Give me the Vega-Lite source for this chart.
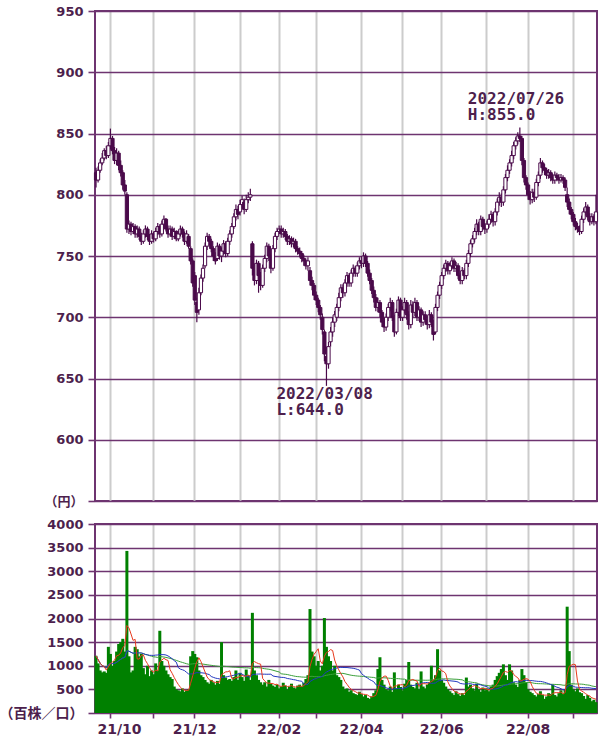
{
"$schema": "https://vega.github.io/schema/vega-lite/v6.json",
"background": "white",
"padding": {"left": -2, "top": 4, "right": 4, "bottom": 0},
"spacing": 8,
"config": {
  "view": {"stroke": "#6e3470", "strokeWidth": 2},
  "axis": {"labelFont": "DejaVu Sans, Noto Sans CJK JP", "labelFontWeight": "bold", "labelColor": "#4d1f4d", "labelFontSize": 13, "tickColor": "#6e3470", "domain": false, "labelOverlap": false}
},
"datasets": {
"px": [
{"d":"2021-09-21","o":818,"h":822,"l":806,"c":812,"v":1210},
{"d":"2021-09-22","o":812,"h":823,"l":810,"c":820,"v":1050},
{"d":"2021-09-24","o":820,"h":829,"l":818,"c":826,"v":900},
{"d":"2021-09-27","o":826,"h":834,"l":824,"c":830,"v":860},
{"d":"2021-09-28","o":830,"h":838,"l":828,"c":836,"v":880},
{"d":"2021-09-29","o":836,"h":840,"l":829,"c":832,"v":850},
{"d":"2021-09-30","o":832,"h":843,"l":830,"c":840,"v":1400},
{"d":"2021-10-01","o":840,"h":854,"l":837,"c":846,"v":1250},
{"d":"2021-10-04","o":846,"h":848,"l":833,"c":836,"v":1000},
{"d":"2021-10-05","o":836,"h":839,"l":825,"c":828,"v":1100},
{"d":"2021-10-06","o":828,"h":838,"l":824,"c":834,"v":1300},
{"d":"2021-10-07","o":834,"h":836,"l":820,"c":824,"v":1460},
{"d":"2021-10-08","o":824,"h":828,"l":815,"c":818,"v":1500},
{"d":"2021-10-11","o":818,"h":820,"l":804,"c":808,"v":1570},
{"d":"2021-10-12","o":808,"h":812,"l":800,"c":803,"v":1300},
{"d":"2021-10-13","o":800,"h":802,"l":769,"c":772,"v":3430},
{"d":"2021-10-14","o":772,"h":779,"l":768,"c":776,"v":1200},
{"d":"2021-10-15","o":776,"h":778,"l":767,"c":770,"v":860},
{"d":"2021-10-18","o":770,"h":777,"l":768,"c":774,"v":900},
{"d":"2021-10-19","o":774,"h":776,"l":765,"c":768,"v":1400},
{"d":"2021-10-20","o":768,"h":775,"l":765,"c":772,"v":1350},
{"d":"2021-10-21","o":772,"h":774,"l":763,"c":766,"v":1200},
{"d":"2021-10-22","o":766,"h":769,"l":759,"c":762,"v":1250},
{"d":"2021-10-25","o":762,"h":771,"l":760,"c":768,"v":950},
{"d":"2021-10-26","o":768,"h":775,"l":765,"c":772,"v":820},
{"d":"2021-10-27","o":772,"h":774,"l":763,"c":766,"v":1000},
{"d":"2021-10-28","o":766,"h":768,"l":759,"c":762,"v":780},
{"d":"2021-10-29","o":762,"h":771,"l":760,"c":768,"v":900},
{"d":"2021-11-01","o":768,"h":770,"l":761,"c":764,"v":820},
{"d":"2021-11-02","o":764,"h":773,"l":762,"c":770,"v":1050},
{"d":"2021-11-04","o":770,"h":777,"l":767,"c":774,"v":900},
{"d":"2021-11-05","o":774,"h":776,"l":765,"c":768,"v":1740},
{"d":"2021-11-08","o":768,"h":779,"l":766,"c":776,"v":1100},
{"d":"2021-11-09","o":776,"h":783,"l":773,"c":780,"v":1000},
{"d":"2021-11-10","o":780,"h":781,"l":770,"c":772,"v":900},
{"d":"2021-11-11","o":772,"h":775,"l":765,"c":768,"v":820},
{"d":"2021-11-12","o":768,"h":775,"l":766,"c":772,"v":760},
{"d":"2021-11-15","o":772,"h":774,"l":763,"c":766,"v":720},
{"d":"2021-11-16","o":766,"h":773,"l":764,"c":770,"v":560},
{"d":"2021-11-17","o":770,"h":771,"l":762,"c":764,"v":500},
{"d":"2021-11-18","o":764,"h":771,"l":762,"c":768,"v":480},
{"d":"2021-11-19","o":768,"h":775,"l":766,"c":772,"v":460},
{"d":"2021-11-22","o":772,"h":774,"l":765,"c":768,"v":520},
{"d":"2021-11-24","o":768,"h":770,"l":759,"c":762,"v":450},
{"d":"2021-11-25","o":762,"h":771,"l":760,"c":768,"v":480},
{"d":"2021-11-26","o":766,"h":768,"l":756,"c":758,"v":500},
{"d":"2021-11-29","o":756,"h":758,"l":743,"c":746,"v":1200},
{"d":"2021-11-30","o":746,"h":748,"l":725,"c":728,"v":1310},
{"d":"2021-12-01","o":734,"h":737,"l":710,"c":714,"v":1250},
{"d":"2021-12-02","o":712,"h":716,"l":696,"c":704,"v":1180},
{"d":"2021-12-03","o":706,"h":724,"l":702,"c":720,"v":900},
{"d":"2021-12-06","o":720,"h":735,"l":718,"c":732,"v":800},
{"d":"2021-12-07","o":732,"h":743,"l":729,"c":740,"v":760},
{"d":"2021-12-08","o":742,"h":761,"l":740,"c":758,"v":700},
{"d":"2021-12-09","o":758,"h":769,"l":755,"c":766,"v":650},
{"d":"2021-12-10","o":766,"h":768,"l":759,"c":762,"v":620},
{"d":"2021-12-13","o":762,"h":764,"l":753,"c":756,"v":700},
{"d":"2021-12-14","o":756,"h":758,"l":746,"c":750,"v":650},
{"d":"2021-12-15","o":750,"h":753,"l":743,"c":746,"v":600},
{"d":"2021-12-16","o":748,"h":761,"l":746,"c":758,"v":680},
{"d":"2021-12-17","o":758,"h":760,"l":747,"c":750,"v":620},
{"d":"2021-12-20","o":750,"h":757,"l":745,"c":754,"v":1500},
{"d":"2021-12-21","o":754,"h":763,"l":751,"c":760,"v":800},
{"d":"2021-12-22","o":760,"h":762,"l":749,"c":752,"v":750},
{"d":"2021-12-23","o":752,"h":765,"l":750,"c":762,"v":700},
{"d":"2021-12-24","o":762,"h":771,"l":759,"c":768,"v":720},
{"d":"2021-12-27","o":768,"h":777,"l":765,"c":774,"v":680},
{"d":"2021-12-28","o":774,"h":785,"l":772,"c":782,"v":760},
{"d":"2021-12-29","o":782,"h":792,"l":779,"c":788,"v":900},
{"d":"2021-12-30","o":788,"h":791,"l":780,"c":784,"v":700},
{"d":"2022-01-04","o":786,"h":796,"l":783,"c":792,"v":850},
{"d":"2022-01-05","o":792,"h":799,"l":789,"c":796,"v":760},
{"d":"2022-01-06","o":794,"h":797,"l":784,"c":788,"v":680},
{"d":"2022-01-07","o":788,"h":800,"l":786,"c":796,"v":920},
{"d":"2022-01-11","o":796,"h":802,"l":793,"c":798,"v":800},
{"d":"2022-01-12","o":798,"h":805,"l":795,"c":800,"v":700},
{"d":"2022-01-13","o":760,"h":762,"l":734,"c":740,"v":2120},
{"d":"2022-01-14","o":740,"h":744,"l":726,"c":730,"v":900},
{"d":"2022-01-17","o":730,"h":747,"l":727,"c":744,"v":800},
{"d":"2022-01-18","o":744,"h":746,"l":720,"c":734,"v":700},
{"d":"2022-01-19","o":734,"h":737,"l":722,"c":726,"v":650},
{"d":"2022-01-20","o":726,"h":743,"l":724,"c":740,"v":600},
{"d":"2022-01-21","o":740,"h":751,"l":737,"c":748,"v":650},
{"d":"2022-01-24","o":748,"h":761,"l":745,"c":758,"v":560},
{"d":"2022-01-25","o":758,"h":760,"l":746,"c":750,"v":700},
{"d":"2022-01-26","o":750,"h":752,"l":736,"c":740,"v":620},
{"d":"2022-01-27","o":740,"h":759,"l":738,"c":756,"v":580},
{"d":"2022-01-28","o":756,"h":769,"l":753,"c":766,"v":550},
{"d":"2022-01-31","o":766,"h":773,"l":763,"c":770,"v":600},
{"d":"2022-02-01","o":770,"h":775,"l":768,"c":772,"v":520},
{"d":"2022-02-02","o":772,"h":775,"l":765,"c":768,"v":560},
{"d":"2022-02-03","o":768,"h":773,"l":765,"c":770,"v":640},
{"d":"2022-02-04","o":770,"h":772,"l":763,"c":766,"v":580},
{"d":"2022-02-07","o":766,"h":768,"l":759,"c":762,"v":500},
{"d":"2022-02-08","o":762,"h":767,"l":759,"c":764,"v":560},
{"d":"2022-02-09","o":764,"h":766,"l":757,"c":760,"v":620},
{"d":"2022-02-10","o":760,"h":765,"l":757,"c":762,"v":540},
{"d":"2022-02-14","o":762,"h":764,"l":753,"c":756,"v":520},
{"d":"2022-02-15","o":756,"h":758,"l":751,"c":754,"v":580},
{"d":"2022-02-16","o":754,"h":757,"l":749,"c":752,"v":600},
{"d":"2022-02-17","o":752,"h":754,"l":745,"c":748,"v":560},
{"d":"2022-02-18","o":748,"h":751,"l":742,"c":746,"v":640},
{"d":"2022-02-21","o":746,"h":748,"l":739,"c":742,"v":720},
{"d":"2022-02-22","o":742,"h":749,"l":738,"c":746,"v":800},
{"d":"2022-02-24","o":738,"h":741,"l":726,"c":730,"v":2200},
{"d":"2022-02-25","o":730,"h":733,"l":722,"c":726,"v":1300},
{"d":"2022-02-28","o":726,"h":728,"l":714,"c":718,"v":1200},
{"d":"2022-03-01","o":718,"h":721,"l":710,"c":714,"v":1000},
{"d":"2022-03-02","o":714,"h":716,"l":704,"c":708,"v":1100},
{"d":"2022-03-03","o":708,"h":710,"l":698,"c":702,"v":900},
{"d":"2022-03-04","o":700,"h":703,"l":686,"c":690,"v":1000},
{"d":"2022-03-07","o":688,"h":690,"l":664,"c":670,"v":2010},
{"d":"2022-03-08","o":668,"h":676,"l":644,"c":662,"v":1400},
{"d":"2022-03-09","o":662,"h":680,"l":658,"c":676,"v":1200},
{"d":"2022-03-10","o":680,"h":692,"l":676,"c":688,"v":1100},
{"d":"2022-03-11","o":688,"h":700,"l":684,"c":696,"v":900},
{"d":"2022-03-14","o":696,"h":705,"l":692,"c":702,"v":1000},
{"d":"2022-03-15","o":700,"h":711,"l":697,"c":708,"v":800},
{"d":"2022-03-16","o":708,"h":720,"l":705,"c":716,"v":760},
{"d":"2022-03-17","o":716,"h":727,"l":713,"c":724,"v":700},
{"d":"2022-03-18","o":724,"h":727,"l":716,"c":720,"v":560},
{"d":"2022-03-22","o":720,"h":731,"l":717,"c":728,"v":500},
{"d":"2022-03-23","o":728,"h":737,"l":725,"c":734,"v":520},
{"d":"2022-03-24","o":734,"h":736,"l":725,"c":728,"v":450},
{"d":"2022-03-25","o":728,"h":739,"l":725,"c":736,"v":480},
{"d":"2022-03-28","o":736,"h":743,"l":733,"c":740,"v":420},
{"d":"2022-03-29","o":740,"h":742,"l":733,"c":736,"v":400},
{"d":"2022-03-30","o":736,"h":745,"l":733,"c":742,"v":380},
{"d":"2022-03-31","o":742,"h":749,"l":739,"c":746,"v":450},
{"d":"2022-04-01","o":746,"h":750,"l":740,"c":744,"v":400},
{"d":"2022-04-04","o":744,"h":753,"l":741,"c":750,"v":350},
{"d":"2022-04-05","o":750,"h":752,"l":741,"c":744,"v":380},
{"d":"2022-04-06","o":744,"h":746,"l":733,"c":736,"v":320},
{"d":"2022-04-07","o":736,"h":739,"l":727,"c":730,"v":300},
{"d":"2022-04-08","o":730,"h":732,"l":719,"c":722,"v":350},
{"d":"2022-04-11","o":722,"h":725,"l":712,"c":716,"v":420},
{"d":"2022-04-12","o":716,"h":719,"l":705,"c":708,"v":480},
{"d":"2022-04-13","o":708,"h":716,"l":704,"c":712,"v":930},
{"d":"2022-04-14","o":712,"h":714,"l":700,"c":704,"v":1180},
{"d":"2022-04-15","o":704,"h":706,"l":692,"c":696,"v":700},
{"d":"2022-04-18","o":696,"h":699,"l":688,"c":692,"v":600},
{"d":"2022-04-19","o":692,"h":703,"l":689,"c":700,"v":500},
{"d":"2022-04-20","o":700,"h":711,"l":697,"c":708,"v":480},
{"d":"2022-04-21","o":708,"h":716,"l":705,"c":712,"v":560},
{"d":"2022-04-22","o":712,"h":714,"l":697,"c":700,"v":450},
{"d":"2022-04-25","o":700,"h":702,"l":684,"c":688,"v":860},
{"d":"2022-04-26","o":688,"h":707,"l":686,"c":704,"v":520},
{"d":"2022-04-27","o":704,"h":717,"l":701,"c":714,"v":600},
{"d":"2022-04-28","o":714,"h":716,"l":697,"c":700,"v":550},
{"d":"2022-05-02","o":700,"h":709,"l":697,"c":706,"v":480},
{"d":"2022-05-06","o":706,"h":716,"l":703,"c":712,"v":620},
{"d":"2022-05-09","o":712,"h":714,"l":698,"c":702,"v":700},
{"d":"2022-05-10","o":702,"h":705,"l":690,"c":694,"v":1080},
{"d":"2022-05-11","o":694,"h":714,"l":691,"c":710,"v":600},
{"d":"2022-05-12","o":710,"h":713,"l":700,"c":704,"v":550},
{"d":"2022-05-13","o":704,"h":716,"l":701,"c":712,"v":520},
{"d":"2022-05-16","o":712,"h":714,"l":697,"c":700,"v":640},
{"d":"2022-05-17","o":700,"h":709,"l":697,"c":706,"v":500},
{"d":"2022-05-18","o":706,"h":708,"l":692,"c":696,"v":880},
{"d":"2022-05-19","o":696,"h":705,"l":693,"c":702,"v":560},
{"d":"2022-05-20","o":702,"h":705,"l":694,"c":698,"v":520},
{"d":"2022-05-23","o":698,"h":701,"l":690,"c":694,"v":600},
{"d":"2022-05-24","o":694,"h":706,"l":691,"c":702,"v":650},
{"d":"2022-05-25","o":702,"h":704,"l":692,"c":696,"v":1000},
{"d":"2022-05-26","o":696,"h":698,"l":681,"c":686,"v":700},
{"d":"2022-05-27","o":688,"h":711,"l":686,"c":708,"v":800},
{"d":"2022-05-30","o":708,"h":721,"l":705,"c":718,"v":1350},
{"d":"2022-05-31","o":718,"h":729,"l":715,"c":726,"v":900},
{"d":"2022-06-01","o":726,"h":737,"l":723,"c":734,"v":700},
{"d":"2022-06-02","o":734,"h":743,"l":731,"c":740,"v":640},
{"d":"2022-06-03","o":740,"h":747,"l":737,"c":744,"v":560},
{"d":"2022-06-06","o":744,"h":746,"l":735,"c":738,"v":500},
{"d":"2022-06-07","o":738,"h":745,"l":735,"c":742,"v":460},
{"d":"2022-06-08","o":742,"h":749,"l":739,"c":746,"v":420},
{"d":"2022-06-09","o":746,"h":748,"l":737,"c":740,"v":380},
{"d":"2022-06-10","o":740,"h":745,"l":737,"c":742,"v":460},
{"d":"2022-06-13","o":742,"h":744,"l":731,"c":734,"v":400},
{"d":"2022-06-14","o":734,"h":736,"l":727,"c":730,"v":360},
{"d":"2022-06-15","o":730,"h":741,"l":727,"c":738,"v":420},
{"d":"2022-06-16","o":738,"h":740,"l":731,"c":734,"v":380},
{"d":"2022-06-17","o":734,"h":747,"l":731,"c":744,"v":750},
{"d":"2022-06-20","o":744,"h":755,"l":741,"c":752,"v":560},
{"d":"2022-06-21","o":752,"h":763,"l":749,"c":760,"v":600},
{"d":"2022-06-22","o":760,"h":767,"l":757,"c":764,"v":520},
{"d":"2022-06-23","o":764,"h":773,"l":761,"c":770,"v":480},
{"d":"2022-06-24","o":770,"h":780,"l":767,"c":776,"v":620},
{"d":"2022-06-27","o":776,"h":778,"l":767,"c":770,"v":500},
{"d":"2022-06-28","o":770,"h":783,"l":767,"c":780,"v":450},
{"d":"2022-06-29","o":780,"h":782,"l":771,"c":774,"v":540},
{"d":"2022-06-30","o":774,"h":777,"l":768,"c":772,"v":480},
{"d":"2022-07-01","o":772,"h":779,"l":769,"c":776,"v":520},
{"d":"2022-07-04","o":776,"h":784,"l":773,"c":780,"v":460},
{"d":"2022-07-05","o":780,"h":787,"l":777,"c":784,"v":560},
{"d":"2022-07-06","o":784,"h":786,"l":774,"c":778,"v":600},
{"d":"2022-07-07","o":778,"h":789,"l":775,"c":786,"v":700},
{"d":"2022-07-08","o":786,"h":797,"l":783,"c":794,"v":780},
{"d":"2022-07-11","o":794,"h":802,"l":791,"c":798,"v":850},
{"d":"2022-07-12","o":798,"h":801,"l":790,"c":794,"v":930},
{"d":"2022-07-13","o":794,"h":807,"l":791,"c":804,"v":1030},
{"d":"2022-07-14","o":804,"h":817,"l":801,"c":814,"v":800},
{"d":"2022-07-15","o":814,"h":824,"l":811,"c":820,"v":700},
{"d":"2022-07-19","o":820,"h":829,"l":817,"c":826,"v":1030},
{"d":"2022-07-20","o":826,"h":836,"l":823,"c":832,"v":900},
{"d":"2022-07-21","o":832,"h":843,"l":829,"c":840,"v":650},
{"d":"2022-07-22","o":840,"h":847,"l":837,"c":844,"v":600},
{"d":"2022-07-25","o":844,"h":851,"l":841,"c":848,"v":550},
{"d":"2022-07-26","o":848,"h":855,"l":843,"c":846,"v":700},
{"d":"2022-07-27","o":846,"h":848,"l":824,"c":828,"v":930},
{"d":"2022-07-28","o":828,"h":830,"l":810,"c":814,"v":800},
{"d":"2022-07-29","o":814,"h":816,"l":804,"c":808,"v":650},
{"d":"2022-08-01","o":808,"h":810,"l":796,"c":800,"v":500},
{"d":"2022-08-02","o":800,"h":803,"l":792,"c":796,"v":450},
{"d":"2022-08-03","o":796,"h":805,"l":793,"c":802,"v":420},
{"d":"2022-08-04","o":802,"h":805,"l":794,"c":798,"v":380},
{"d":"2022-08-05","o":798,"h":813,"l":796,"c":810,"v":350},
{"d":"2022-08-08","o":810,"h":819,"l":807,"c":816,"v":400},
{"d":"2022-08-09","o":816,"h":830,"l":813,"c":826,"v":460},
{"d":"2022-08-10","o":826,"h":828,"l":818,"c":822,"v":380},
{"d":"2022-08-12","o":822,"h":825,"l":816,"c":820,"v":300},
{"d":"2022-08-15","o":820,"h":822,"l":813,"c":816,"v":350},
{"d":"2022-08-16","o":816,"h":821,"l":813,"c":818,"v":420},
{"d":"2022-08-17","o":818,"h":820,"l":811,"c":814,"v":400},
{"d":"2022-08-18","o":814,"h":817,"l":809,"c":812,"v":600},
{"d":"2022-08-19","o":812,"h":819,"l":809,"c":816,"v":380},
{"d":"2022-08-22","o":816,"h":818,"l":811,"c":814,"v":350},
{"d":"2022-08-23","o":814,"h":817,"l":809,"c":812,"v":420},
{"d":"2022-08-24","o":812,"h":817,"l":810,"c":814,"v":480},
{"d":"2022-08-25","o":814,"h":816,"l":809,"c":812,"v":400},
{"d":"2022-08-26","o":812,"h":814,"l":803,"c":806,"v":500},
{"d":"2022-08-29","o":800,"h":806,"l":790,"c":794,"v":2250},
{"d":"2022-08-30","o":794,"h":797,"l":784,"c":788,"v":1310},
{"d":"2022-08-31","o":788,"h":790,"l":780,"c":784,"v":600},
{"d":"2022-09-01","o":784,"h":786,"l":775,"c":778,"v":500},
{"d":"2022-09-02","o":778,"h":781,"l":771,"c":774,"v":460},
{"d":"2022-09-05","o":774,"h":777,"l":769,"c":772,"v":520},
{"d":"2022-09-06","o":772,"h":775,"l":767,"c":770,"v":440},
{"d":"2022-09-07","o":770,"h":783,"l":768,"c":780,"v":420},
{"d":"2022-09-08","o":780,"h":789,"l":777,"c":786,"v":360},
{"d":"2022-09-09","o":786,"h":794,"l":783,"c":790,"v":300},
{"d":"2022-09-12","o":790,"h":792,"l":779,"c":782,"v":380},
{"d":"2022-09-13","o":782,"h":785,"l":775,"c":778,"v":320},
{"d":"2022-09-14","o":778,"h":785,"l":776,"c":782,"v":250},
{"d":"2022-09-15","o":782,"h":784,"l":775,"c":778,"v":280},
{"d":"2022-09-16","o":778,"h":800,"l":776,"c":786,"v":230}
],
"notes": [
{"k":"H","d":"2022-07-26","p":855,"t":"2022/07/26\nH:855.0"},
{"k":"L","d":"2022-03-08","p":644,"t":"2022/03/08\nL:644.0"}
]
},
"vconcat": [
{
  "width": 502,
  "height": 490,
  "data": {"name": "px"},
  "encoding": {
    "x": {"field": "d", "type": "ordinal", "title": null,
      "scale": {"type": "band", "paddingInner": 0, "paddingOuter": 0},
      "axis": {"values": ["2021-10-01","2021-11-01","2021-12-01","2022-01-04","2022-02-01","2022-03-01","2022-04-01","2022-05-02","2022-06-01","2022-07-01","2022-08-01","2022-09-01"],
        "labels": false, "ticks": false, "domain": false, "title": null, "grid": true, "gridColor": "#cccccc", "gridWidth": 2}}
  },
  "layer": [
    {"mark": {"type": "rule", "color": "#4a0a4a", "strokeWidth": 1.2},
     "encoding": {
       "y": {"field": "l", "type": "quantitative", "title": null,
         "scale": {"domain": [550, 950], "nice": false, "zero": false},
         "axis": {"values": [550,600,650,700,750,800,850,900,950], "labelExpr": "datum.value == 550 ? '（円）' : datum.label", "grid": true, "gridColor": "#6e3470", "gridWidth": 1.6, "tickSize": 7, "tickWidth": 1.6, "labelPadding": 5, "title": null}},
       "y2": {"field": "h"}
     }},
    {"mark": {"type": "bar", "size": 3.2, "stroke": "#4a0a4a", "strokeWidth": 1},
     "encoding": {
       "y": {"field": "o", "type": "quantitative", "title": null},
       "y2": {"field": "c"},
       "fill": {"condition": {"test": "datum.c < datum.o", "value": "#4a0a4a"}, "value": "#ffffff"}
     }},
    {"data": {"name": "notes"},
     "transform": [{"filter": "datum.k == 'H'"}],
     "mark": {"type": "text", "align": "left", "baseline": "bottom", "dx": -52, "dy": -20, "font": "DejaVu Sans Mono", "fontWeight": "bold", "fontSize": 16, "lineHeight": 16, "lineBreak": "\n", "color": "#4d1f4d"},
     "encoding": {"y": {"field": "p", "type": "quantitative", "title": null}, "text": {"field": "t"}}},
    {"data": {"name": "notes"},
     "transform": [{"filter": "datum.k == 'L'"}],
     "mark": {"type": "text", "align": "left", "baseline": "top", "dx": -50, "dy": 0, "font": "DejaVu Sans Mono", "fontWeight": "bold", "fontSize": 16, "lineHeight": 16, "lineBreak": "\n", "color": "#4d1f4d"},
     "encoding": {"y": {"field": "p", "type": "quantitative", "title": null}, "text": {"field": "t"}}}
  ]
},
{
  "width": 502,
  "height": 189,
  "data": {"name": "px"},
  "transform": [
    {"window": [{"op": "mean", "field": "v", "as": "m5"}], "frame": [-4, 0], "sort": [{"field": "d"}]},
    {"window": [{"op": "mean", "field": "v", "as": "m25"}], "frame": [-24, 0], "sort": [{"field": "d"}]},
    {"window": [{"op": "mean", "field": "v", "as": "m75"}], "frame": [-74, 0], "sort": [{"field": "d"}]}
  ],
  "encoding": {
    "x": {"field": "d", "type": "ordinal", "title": null,
      "scale": {"type": "band", "paddingInner": 0, "paddingOuter": 0},
      "axis": {"values": ["2021-10-01","2021-11-01","2021-12-01","2022-01-04","2022-02-01","2022-03-01","2022-04-01","2022-05-02","2022-06-01","2022-07-01","2022-08-01","2022-09-01"],
        "labelExpr": "toNumber(slice(datum.value,5,7)) % 2 == 0 ? slice(datum.value,2,4) + '/' + slice(datum.value,5,7) : ''",
        "labelAngle": 0, "labelFontSize": 14, "labelPadding": 4, "labelOffset": {"condition": {"test": "datum.value == '2021-10-01'", "value": 9}, "value": 0},
        "ticks": true, "tickSize": 5, "tickWidth": 1.6, "domain": false, "title": null, "grid": true, "gridColor": "#cccccc", "gridWidth": 2}}
  },
  "layer": [
    {"mark": {"type": "bar", "color": "#008000", "size": 3},
     "encoding": {"y": {"field": "v", "type": "quantitative", "title": null,
       "scale": {"domain": [0, 4000], "nice": false},
       "axis": {"values": [0,500,1000,1500,2000,2500,3000,3500,4000], "format": "d", "labelExpr": "datum.value == 0 ? '（百株／口）' : datum.label", "labelFontSize": {"condition": {"test": "datum.value == 0", "value": 14}, "value": 13}, "grid": true, "gridColor": "#6e3470", "gridWidth": 1.6, "tickSize": 7, "tickWidth": 1.6, "labelPadding": 5, "title": null}}}},
    {"mark": {"type": "line", "color": "#3aa03a", "strokeWidth": 1},
     "encoding": {"y": {"field": "m75", "type": "quantitative", "title": null,
       "axis": {"values": [0,500,1000,1500,2000,2500,3000,3500,4000], "format": "d", "labelExpr": "datum.value == 0 ? '（百株／口）' : datum.label", "labelFontSize": {"condition": {"test": "datum.value == 0", "value": 14}, "value": 13}, "grid": true, "gridColor": "#6e3470", "gridWidth": 1.6, "tickSize": 7, "tickWidth": 1.6, "labelPadding": 5, "title": null}}}},
    {"mark": {"type": "line", "color": "#2238c0", "strokeWidth": 1},
     "encoding": {"y": {"field": "m25", "type": "quantitative", "title": null,
       "axis": {"values": [0,500,1000,1500,2000,2500,3000,3500,4000], "format": "d", "labelExpr": "datum.value == 0 ? '（百株／口）' : datum.label", "labelFontSize": {"condition": {"test": "datum.value == 0", "value": 14}, "value": 13}, "grid": true, "gridColor": "#6e3470", "gridWidth": 1.6, "tickSize": 7, "tickWidth": 1.6, "labelPadding": 5, "title": null}}}},
    {"mark": {"type": "line", "color": "#e83a1e", "strokeWidth": 1},
     "encoding": {"y": {"field": "m5", "type": "quantitative", "title": null,
       "axis": {"values": [0,500,1000,1500,2000,2500,3000,3500,4000], "format": "d", "labelExpr": "datum.value == 0 ? '（百株／口）' : datum.label", "labelFontSize": {"condition": {"test": "datum.value == 0", "value": 14}, "value": 13}, "grid": true, "gridColor": "#6e3470", "gridWidth": 1.6, "tickSize": 7, "tickWidth": 1.6, "labelPadding": 5, "title": null}}}}
  ]
}
]
}
